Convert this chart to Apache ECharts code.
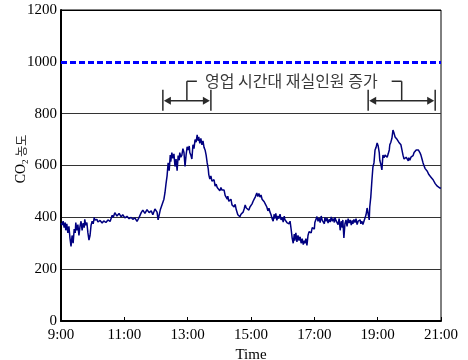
<!DOCTYPE html>
<html>
<head>
<meta charset="utf-8">
<script src="https://cdn.jsdelivr.net/npm/echarts@6/dist/echarts.min.js"></script>
<style>
  html, body { margin: 0; padding: 0; background: #fff; }
  #chart { width: 468px; height: 360px; }
</style>
</head>
<body>
<div id="chart"></div>
<script>
// Measurement times, minutes after 9:00
const minutes = [
  0,2,4,6,8,9,11,13,15,17,19,21,23,25,27,28,30,32,34,36,38,40,42,44,45,47,49,51,53,55,57,59,61,63,64,
  68,70,74,78,81,85,89,93,97,99,102,106,110,114,117,121,125,129,133,136,140,144,148,152,155,159,163,167,171,174,178,182,184,188,191,
  195,197,199,201,203,205,207,
  208,210,212,214,216,218,220,222,224,225,
  227,229,231,233,235,237,239,241,243,244,
  246,248,250,252,254,256,258,260,261,263,
  265,267,269,271,273,275,277,279,280,282,
  284,286,288,290,292,294,296,297,299,301,
  303,305,307,309,311,313,315,316,318,320,
  322,324,326,328,330,332,333,335,337,339,
  341,343,345,347,349,351,352,354,356,358,
  360,362,364,366,368,369,371,373,375,377,
  379,381,383,385,387,388,390,392,394,396,
  398,400,402,404,405,407,409,411,413,415,
  417,419,421,423,424,426,428,430,432,434,
  436,438,440,442,443,445,447,449,451,453,
  455,457,459,461,462,464,466,468,470,472,
  474,476,478,480,481,483,485,487,489,491,
  493,495,497,499,500,502,504,506,508,510,
  512,514,516,518,519,521,523,525,527,529,
  531,533,534,536,538,540,542,544,546,548,
  550,552,553,555,557,559,561,563,565,567,
  568,570,572,574,576,578,580,582,584,585,
  587,589,591,593,595,597,599,601,603,604,
  606,608,610,612,614,616,618,620,622,623,
  625,627,629,631,633,635,637,639,640,642,
  644,646,648,650,652,654,656,658,659,661,
  663,665,667,669,671,673,675,677,678,680,
  682,684,686,688,690,692,694,696,697,699,
  701,703,705,707,709,711,713,715,716,718,720
];

// CO2 concentration (ppm) at each measurement time
const co2 = [
  378,370,385,360,380,350,375,340,365,320,288,330,300,355,340,380,350,372,330,365,385,350,378,360,392,370,380,340,312,330,370,385,375,400,390,
  392,382,388,378,386,380,390,384,408,400,418,405,415,402,410,398,404,395,400,392,398,384,400,418,428,415,430,418,425,410,432,420,390,428,432,
  470,495,530,560,610,580,640,
  615,650,628,645,596,625,580,638,620,650,
  632,640,665,650,596,640,672,660,675,650,
  640,625,680,665,700,690,718,695,710,685,
  705,680,695,670,660,640,610,587,565,548,
  560,540,533,545,520,528,515,508,520,502,
  515,505,498,505,485,478,470,482,462,458,
  470,448,455,440,450,430,425,410,415,402,
  412,408,420,432,448,436,430,438,428,440,
  445,452,462,470,478,485,494,480,492,478,
  486,470,475,460,452,445,440,425,435,420,
  410,395,385,412,395,415,388,405,395,412,
  390,400,382,405,392,398,380,385,375,385,
  355,320,300,335,310,340,305,330,310,325,
  300,318,295,310,300,318,292,330,345,352,
  340,360,365,355,380,392,403,385,398,380,
  405,388,395,375,400,385,398,378,392,382,
  402,385,395,380,400,388,385,372,395,350,
  385,360,390,320,375,390,365,395,378,390,
  370,388,375,392,380,395,372,385,378,390,
  375,385,372,385,378,410,436,430,390,440,
  479,540,594,610,660,670,687,675,650,620,
  605,583,640,630,640,635,632,645,660,680,
  690,705,737,725,710,715,700,705,690,695,
  680,660,640,625,620,632,628,618,630,620,
  632,625,638,650,655,660,667,660,655,650,
  640,625,610,598,588,590,578,575,565,568,
  555,550,545,540,530,535,520,525,515,513,512
];

// X-axis tick labels, every two hours from 9:00
const timeLabels = ['9:00', '11:00', '13:00', '15:00', '17:00', '19:00', '21:00'];

// Indoor CO2 guideline (ppm)
const limitPpm = 1000;

// Business-hour periods of increased occupancy (minutes after 9:00)
const busyStart = [193, 582];
const busyEnd = [284, 709];
const busyNote = '영업 시간대 재실인원 증가';

const serif = "'Liberation Serif', 'Times New Roman', serif";
const korean = "'Noto Sans CJK KR', sans-serif";

const chart = echarts.init(document.getElementById('chart'), null, { renderer: 'canvas' });

const option = {
  animation: false,
  backgroundColor: '#fff',
  grid: {
    left: 61, right: 27, top: 10, bottom: 39,
    outerBoundsMode: 'none',
    containLabel: false,
    show: true, borderColor: '#000', borderWidth: 1
  },
  xAxis: {
    type: 'value',
    min: 0, max: 720, interval: 120,
    name: 'Time',
    nameLocation: 'middle',
    nameGap: 26,
    nameTextStyle: { fontFamily: serif, fontSize: 15, color: '#000' },
    axisLine: { show: true, lineStyle: { color: '#000', width: 2 } },
    axisTick: { show: true, inside: true, length: 4, lineStyle: { color: '#000', width: 1 } },
    axisLabel: {
      fontFamily: serif, fontSize: 15, color: '#000', margin: 7,
      formatter: v => timeLabels[Math.round(v / 120)]
    },
    splitLine: { show: false }
  },
  yAxis: {
    type: 'value',
    min: 0, max: 1200, interval: 200,
    axisLine: { show: true, lineStyle: { color: '#000', width: 2 } },
    axisTick: { show: false },
    axisLabel: {
      fontFamily: serif, fontSize: 15, color: '#000', margin: 4,
      formatter: v => String(v)
    },
    splitLine: {
      show: true,
      lineStyle: {
        color: ['#000', '#333', '#333', '#333', '#333', 'rgba(0,0,0,0)', '#000'],
        width: 1
      }
    }
  },
  series: [{
    type: 'line',
    data: minutes.map((m, i) => [m, co2[i]]),
    showSymbol: false,
    symbol: 'none',
    lineStyle: { color: '#000080', width: 1.5 },
    z: 3,
    markLine: {
      silent: true,
      symbol: 'none',
      label: { show: false },
      lineStyle: { color: '#0000ff', width: 3, type: [6, 3] },
      data: [{ yAxis: limitPpm }]
    }
  }]
};

chart.setOption(option);

// Annotation: double-headed arrows over the busy periods, joined by brackets to a caption
const px = (t, v) => chart.convertToPixel({ gridIndex: 0 }, [t, v]);
const arrowLevel = 850;
const captionLevel = 925;
const ink = '#2a2a2a';
const graphics = [];
const mids = [];
let captionY = 0;

busyStart.forEach((s, i) => {
  const [x0, y] = px(s, arrowLevel);
  const [x1] = px(busyEnd[i], arrowLevel);
  const yTop = px(s, captionLevel)[1];
  captionY = yTop;
  const mid = (x0 + x1) / 2;
  mids.push(mid);
  const line = (a, b, c, d) => ({
    type: 'line', silent: true,
    shape: { x1: a, y1: b, x2: c, y2: d },
    style: { stroke: ink, lineWidth: 1.5 }
  });
  // end bars
  graphics.push(line(x0, y - 11, x0, y + 10));
  graphics.push(line(x1, y - 11, x1, y + 10));
  // shaft
  graphics.push(line(x0 + 4, y, x1 - 4, y));
  // arrowheads
  graphics.push({
    type: 'polygon', silent: true,
    shape: { points: [[x0 + 1, y], [x0 + 8, y - 4], [x0 + 8, y + 4]] },
    style: { fill: ink }
  });
  graphics.push({
    type: 'polygon', silent: true,
    shape: { points: [[x1 - 1, y], [x1 - 8, y - 4], [x1 - 8, y + 4]] },
    style: { fill: ink }
  });
  // bracket up to caption
  graphics.push(line(mid, y, mid, yTop));
  if (i === 0) graphics.push(line(mid, yTop, mid + 10, yTop));
  else graphics.push(line(mid - 10, yTop, mid, yTop));
});

graphics.push({
  type: 'text', silent: true,
  x: (mids[0] + mids[1]) / 2 - 3,
  y: captionY,
  style: {
    text: busyNote,
    font: '16px ' + korean,
    fill: '#3a3a3a',
    align: 'center',
    verticalAlign: 'middle'
  }
});

// Y-axis title: CO2 농도, rotated
graphics.push({
  type: 'text', silent: true,
  x: 21, y: 159,
  rotation: Math.PI / 2,
  style: {
    text: '{a|CO}{s|2}{k| 농도}',
    align: 'center',
    verticalAlign: 'middle',
    fill: '#000',
    rich: {
      a: { fontFamily: serif, fontSize: 14, fill: '#000', lineHeight: 18, verticalAlign: 'middle' },
      s: { fontFamily: serif, fontSize: 9, fill: '#000', lineHeight: 18, verticalAlign: 'bottom' },
      k: { fontFamily: korean, fontSize: 12, fill: '#222', lineHeight: 18, verticalAlign: 'middle' }
    }
  }
});

chart.setOption({ graphic: graphics });
</script>
</body>
</html>
